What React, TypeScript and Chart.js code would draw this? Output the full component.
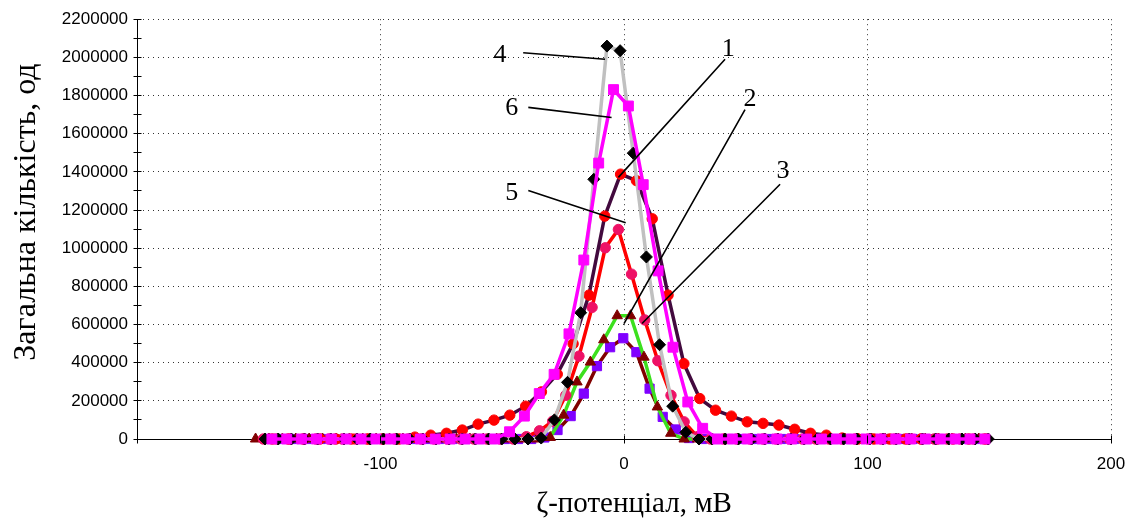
import React, { useEffect, useRef } from "react";
import { Chart, registerables } from "chart.js";
Chart.register(...registerables);

// Series 4: gray line, black diamonds
const xA = [-147.4, -142.0, -136.6, -131.2, -125.8, -120.4, -115.0, -109.6, -104.2, -98.8, -93.4, -88.0, -82.6, -77.2, -71.8, -66.4, -61.0, -55.6, -50.2, -44.8, -39.4, -34.0, -28.6, -23.2, -17.8, -12.4, -7.0, -1.6, 3.8, 9.2, 14.6, 20.0, 25.4, 30.8, 36.2, 41.6, 47.0, 52.4, 57.8, 63.2, 68.6, 74.0, 79.4, 84.8, 90.2, 95.6, 101.0, 106.4, 111.8, 117.2, 122.6, 128.0, 133.4, 138.8, 144.2, 149.6];
const yA = [0, 0, 0, 0, 0, 0, 0, 0, 0, 0, 0, 0, 0, 0, 0, 0, 0, 0, 0, 0, 0, 5000, 100000, 297000, 662000, 1361000, 2059000, 2035000, 1498000, 954000, 494000, 172000, 35000, 0, 0, 0, 0, 0, 0, 0, 0, 0, 0, 0, 0, 0, 0, 0, 0, 0, 0, 0, 0, 0, 0, 0];

// Series 6: magenta line, magenta squares
const xB = [-144.6, -138.5, -132.4, -126.3, -120.2, -114.1, -108.0, -101.9, -95.8, -89.7, -83.6, -77.5, -71.4, -65.3, -59.2, -53.1, -47.0, -40.9, -34.8, -28.7, -22.6, -16.5, -10.4, -4.3, 1.8, 7.9, 14.0, 20.1, 26.2, 32.3, 38.4, 44.5, 50.6, 56.7, 62.8, 68.9, 75.0, 81.1, 87.2, 93.3, 99.4, 105.5, 111.6, 117.7, 123.8, 129.9, 136.0, 142.1, 148.2];
const yB = [0, 0, 0, 0, 0, 0, 0, 0, 0, 0, 0, 0, 0, 0, 0, 0, 38000, 120000, 238000, 339000, 551000, 938000, 1446000, 1831000, 1745000, 1333000, 881000, 481000, 194000, 56000, 0, 0, 0, 0, 0, 0, 0, 0, 0, 0, 0, 0, 0, 0, 0, 0, 0, 0, 0];

// Series 1: dark purple line, red circles
const xC = [-144.4, -137.9, -131.4, -124.9, -118.4, -111.9, -105.4, -98.9, -92.4, -85.9, -79.4, -72.9, -66.4, -59.9, -53.4, -46.9, -40.4, -33.9, -27.4, -20.9, -14.4, -7.9, -1.4, 5.1, 11.6, 18.1, 24.6, 31.1, 37.6, 44.1, 50.6, 57.1, 63.6, 70.1, 76.6, 83.1, 89.6, 96.1, 102.6, 109.1, 115.6, 122.1, 128.6, 135.1, 141.6, 148.1];
const yC = [0, 0, 0, 0, 0, 0, 0, 0, 0, 10000, 20000, 30000, 47000, 78000, 99000, 125000, 172000, 247000, 340000, 499000, 754000, 1168000, 1388000, 1354000, 1154000, 754000, 395000, 212000, 151000, 120000, 90000, 82000, 73000, 51000, 30000, 20000, 5000, 0, 0, 0, 0, 0, 0, 0, 0, 0];

// Series 5: red line, pink circles
const xD = [-148.1, -142.7, -137.3, -131.9, -126.5, -121.1, -115.7, -110.3, -104.9, -99.5, -94.1, -88.7, -83.3, -77.9, -72.5, -67.1, -61.7, -56.3, -50.9, -45.5, -40.1, -34.7, -29.3, -23.9, -18.5, -13.1, -7.7, -2.3, 3.1, 8.5, 13.9, 19.3, 24.7, 30.1, 35.5, 40.9, 46.3, 51.7, 57.1, 62.5, 67.9, 73.3, 78.7, 84.1, 89.5, 94.9, 100.3, 105.7, 111.1, 116.5, 121.9, 127.3, 132.7, 138.1, 143.5, 148.9];
const yD = [0, 0, 0, 0, 0, 0, 0, 0, 0, 0, 0, 0, 0, 0, 0, 0, 0, 0, 0, 0, 12000, 43000, 93000, 229000, 434000, 690000, 1002000, 1098000, 864000, 624000, 410000, 229000, 90000, 12000, 0, 0, 0, 0, 0, 0, 0, 0, 0, 0, 0, 0, 0, 0, 0, 0, 0, 0, 0, 0, 0, 0];

// Series 2: green line, dark red triangles
const xE = [-151.3, -145.8, -140.3, -134.8, -129.3, -123.8, -118.3, -112.8, -107.3, -101.8, -96.3, -90.8, -85.3, -79.8, -74.3, -68.8, -63.3, -57.8, -52.3, -46.8, -41.3, -35.8, -30.3, -24.8, -19.3, -13.8, -8.3, -2.8, 2.7, 8.2, 13.7, 19.2, 24.7, 30.2, 35.7, 41.2, 46.7, 52.2, 57.7, 63.2, 68.7, 74.2, 79.7, 85.2, 90.7, 96.2, 101.7, 107.2, 112.7, 118.2, 123.7, 129.2, 134.7, 140.2, 145.7];
const yE = [0, 0, 0, 0, 0, 0, 0, 0, 0, 0, 0, 0, 0, 0, 0, 0, 0, 0, 0, 0, 0, 0, 8000, 125000, 299000, 403000, 520000, 646000, 646000, 429000, 168000, 30000, 0, 0, 0, 0, 0, 0, 0, 0, 0, 0, 0, 0, 0, 0, 0, 0, 0, 0, 0, 0, 0, 0, 0];

// Series 3: maroon line, purple squares
const xF = [-146.1, -140.7, -135.3, -129.9, -124.5, -119.1, -113.7, -108.3, -102.9, -97.5, -92.1, -86.7, -81.3, -75.9, -70.5, -65.1, -59.7, -54.3, -48.9, -43.5, -38.1, -32.7, -27.3, -21.9, -16.5, -11.1, -5.7, -0.3, 5.1, 10.5, 15.9, 21.3, 26.7, 32.1, 37.5, 42.9, 48.3, 53.7, 59.1, 64.5, 69.9, 75.3, 80.7, 86.1, 91.5, 96.9, 102.3, 107.7, 113.1, 118.5, 123.9, 129.3, 134.7, 140.1, 145.5];
const yF = [0, 0, 0, 0, 0, 0, 0, 0, 0, 0, 0, 0, 0, 0, 0, 0, 0, 0, 0, 0, 0, 8000, 47000, 120000, 238000, 382000, 481000, 528000, 455000, 264000, 116000, 50000, 5000, 0, 0, 0, 0, 0, 0, 0, 0, 0, 0, 0, 0, 0, 0, 0, 0, 0, 0, 0, 0, 0, 0];

// Axis ranges and ticks
const xMin = -200;
const xMax = 200;
const xStep = 100;
const yMin = 0;
const yMax = 2200000;
const yStep = 200000;
const yMinorStep = 100000;

// Curve labels: text, text position, leader line start and end (data coordinates)
const labelTexts = ["4", "6", "5", "1", "2", "3"];
const labelX = [-50.9, -46.1, -46.1, 42.8, 51.7, 65.3];
const labelY = [2012000, 1732000, 1289000, 2045000, 1783000, 1402000];
const leadX1 = [-41.4, -39.3, -39.3, 41.5, 49.7, 64.1];
const leadY1 = [2024000, 1738000, 1302000, 1990000, 1726000, 1335000];
const leadX2 = [-7.8, -5.1, 0.7, -2.3, 0, 7.4];
const leadY2 = [1990000, 1685000, 1133000, 1371000, 605000, 605000];

const yTitle = "Загальна кількість, од";
const xTitle = "ζ-потенціал, мВ";

const zip = (xs: number[], ys: number[]) => xs.map((x, i) => ({ x, y: ys[i] }));

const overlay = {
  id: "overlay",
  afterDraw(chart: any) {
    const { ctx, chartArea } = chart;
    const xs = chart.scales.x;
    const ys = chart.scales.y;
    const al = (v: number) => Math.round(v - 0.5) + 0.5;
    ctx.save();
    ctx.strokeStyle = "#000";
    ctx.lineWidth = 1;
    ctx.setLineDash([]);
    const ax = al(chartArea.left);
    const ay = al(chartArea.bottom);
    ctx.beginPath();
    for (let v = yMin; v <= yMax; v += yMinorStep) {
      const py = al(ys.getPixelForValue(v));
      ctx.moveTo(ax - 4, py);
      ctx.lineTo(ax + 4, py);
    }
    for (let v = xMin; v <= xMax; v += xStep) {
      const px = al(xs.getPixelForValue(v));
      ctx.moveTo(px, ay - 4);
      ctx.lineTo(px, ay + 4);
    }
    ctx.stroke();

    // leader lines
    ctx.lineWidth = 1.6;
    ctx.beginPath();
    for (let i = 0; i < labelTexts.length; i++) {
      ctx.moveTo(xs.getPixelForValue(leadX1[i]), ys.getPixelForValue(leadY1[i]));
      ctx.lineTo(xs.getPixelForValue(leadX2[i]), ys.getPixelForValue(leadY2[i]));
    }
    ctx.stroke();

    ctx.fillStyle = "#000";
    ctx.font = "26px 'Liberation Serif', 'Times New Roman', serif";
    ctx.textAlign = "center";
    ctx.textBaseline = "middle";
    for (let i = 0; i < labelTexts.length; i++) {
      ctx.fillText(labelTexts[i], xs.getPixelForValue(labelX[i]), ys.getPixelForValue(labelY[i]));
    }

    // axis titles
    ctx.font = "29px 'Liberation Serif', 'Times New Roman', serif";
    ctx.textBaseline = "alphabetic";
    ctx.fillText(xTitle, 634, 512);
    ctx.save();
    ctx.translate(35, 212);
    ctx.rotate(-Math.PI / 2);
    ctx.font = "32px 'Liberation Serif', 'Times New Roman', serif";
    ctx.fillText(yTitle, 0, 0);
    ctx.restore();
    ctx.restore();
  },
};

export default function App() {
  const ref = useRef<HTMLCanvasElement | null>(null);
  useEffect(() => {
    if (!ref.current) return;
    const mk = (
      data: { x: number; y: number }[],
      line: string,
      marker: string,
      style: string,
      radius: number,
      order: number
    ) => ({
      data,
      showLine: true,
      borderColor: line,
      borderWidth: 3.5,
      backgroundColor: marker,
      pointBackgroundColor: marker,
      pointBorderColor: marker,
      pointBorderWidth: 1,
      pointStyle: style,
      pointRadius: radius,
      pointHoverRadius: radius,
      tension: 0,
      clip: false,
      order,
    });
    const chart = new Chart(ref.current, {
      type: "scatter",
      data: {
        datasets: [
          mk(zip(xB, yB), "#FF00FF", "#FF00FF", "rect", 7, 0),
          mk(zip(xA, yA), "#C0C0C0", "#000000", "rectRot", 6, 1),
          mk(zip(xC, yC), "#420A3E", "#FF0000", "circle", 5.2, 2),
          mk(zip(xD, yD), "#FF0000", "#EE1166", "circle", 5.2, 3),
          mk(zip(xE, yE), "#3CE01E", "#800000", "triangle", 6, 4),
          mk(zip(xF, yF), "#800000", "#8000FF", "rect", 6.5, 5),
        ] as any,
      },
      options: {
        animation: false,
        responsive: false,
        devicePixelRatio: 1,
        layout: { padding: { left: 0, top: 17, right: 21, bottom: 0 } },
        plugins: { legend: { display: false }, tooltip: { enabled: false } },
        events: [],
        scales: {
          x: {
            type: "linear",
            min: xMin,
            max: xMax,
            ticks: {
              stepSize: xStep,
              padding: 15,
              color: "#000",
              font: { family: "'Liberation Sans', Arial, sans-serif", size: 17 },
              callback: (v: any) => (v === xMin ? "" : String(v)),
            },
            grid: { color: "#333", lineWidth: 1, drawTicks: false },
            border: { display: true, color: "#000", width: 1, dash: [1, 4] },
            afterFit: (s: any) => {
              s.height = 80;
              s.paddingLeft = 0;
              s.paddingRight = 0;
            },
          },
          y: {
            type: "linear",
            min: yMin,
            max: yMax,
            ticks: {
              stepSize: yStep,
              padding: 9,
              color: "#000",
              font: { family: "'Liberation Sans', Arial, sans-serif", size: 17 },
              callback: (v: any) => String(v),
            },
            grid: { color: "#333", lineWidth: 1, drawTicks: false },
            border: { display: true, color: "#000", width: 1, dash: [1, 4] },
            afterFit: (s: any) => {
              s.width = 137;
            },
          },
        },
      },
      plugins: [overlay],
    });
    return () => chart.destroy();
  }, []);
  return (
    <div style={{ position: "fixed", left: 0, top: 0, width: 1132, height: 519, background: "#fff" }}>
      <canvas ref={ref} width={1132} height={519} />
    </div>
  );
}
